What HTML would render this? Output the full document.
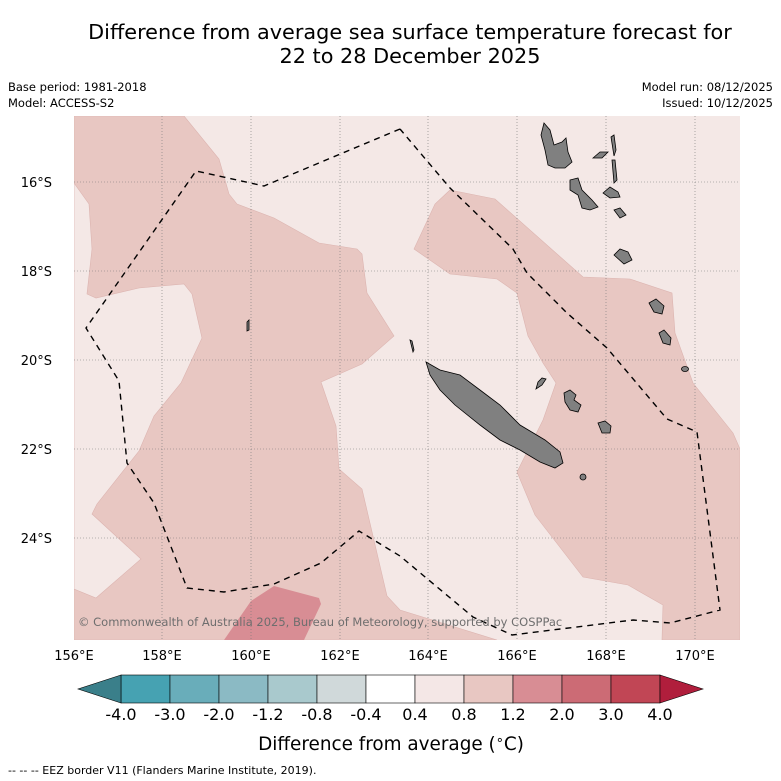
<!DOCTYPE html>
<html><head><meta charset="utf-8"><style>
body{margin:0;background:#fff;font-family:"Liberation Sans","DejaVu Sans",sans-serif}
svg{display:block}
</style></head><body>
<svg id="s" width="781" height="781" viewBox="0 0 781 781" font-family="DejaVu Sans, Liberation Sans, sans-serif">
<text x="410" y="39" font-size="20.8" text-anchor="middle">Difference from average sea surface temperature forecast for</text>
<text x="410" y="63" font-size="20.8" text-anchor="middle">22 to 28 December 2025</text>
<text x="8" y="91" font-size="11.5">Base period: 1981-2018</text>
<text x="8" y="107" font-size="11.5">Model: ACCESS-S2</text>
<text x="773" y="91" font-size="11.5" text-anchor="end">Model run: 08/12/2025</text>
<text x="773" y="107" font-size="11.5" text-anchor="end">Issued: 10/12/2025</text>
<defs><clipPath id="mc"><rect x="74" y="116" width="666" height="524"/></clipPath></defs>
<g clip-path="url(#mc)">
<rect x="74" y="116" width="666" height="524" fill="#f4e8e6"/>
<polygon fill="#e8c7c2" stroke="#dcb4b0" stroke-width="0.6" points="74,116 184,116 219,159 229,194 237,204 274,218 319,243 357,249 362,254 367,293 394,336 362,364 321,382 336,426 339,469 362,489 387,596 400,610 497,640 74,640"/>
<polygon fill="#f4e8e6" stroke="#dcb4b0" stroke-width="0.6" points="74,183 89,204 92,249 87,294 96,298 139,288 184,284 192,294 202,338 181,383 154,416 139,451 97,504 92,514 141,559 96,598 74,589"/>
<polygon fill="#e8c7c2" stroke="#dcb4b0" stroke-width="0.6" points="450,190 495,199 583,277 630,279 672,293 675,333 693,383 733,433 740,449 740,640 662,640 663,605 628,585 583,577 535,515 517,472 543,420 556,383 543,363 528,336 517,293 497,279 450,274 414,249 435,204"/>
<polygon fill="#d88d94" points="224,640 251,601 274,586 319,598 321,604 304,640"/>
<g stroke="#777" stroke-width="0.6" stroke-dasharray="1,2">
<line x1="162" y1="116" x2="162" y2="640"/><line x1="251" y1="116" x2="251" y2="640"/><line x1="340" y1="116" x2="340" y2="640"/><line x1="428" y1="116" x2="428" y2="640"/><line x1="517" y1="116" x2="517" y2="640"/><line x1="606" y1="116" x2="606" y2="640"/><line x1="695" y1="116" x2="695" y2="640"/>
<line x1="74" y1="182" x2="740" y2="182"/><line x1="74" y1="271" x2="740" y2="271"/><line x1="74" y1="360" x2="740" y2="360"/><line x1="74" y1="449" x2="740" y2="449"/><line x1="74" y1="538" x2="740" y2="538"/>
</g>
<g fill="#808080" stroke="#000" stroke-width="0.8">
<polygon points="426,362 440,370 460,375 480,390 500,405 520,425 545,440 560,452 563,463 555,468 540,462 520,450 500,440 480,425 455,405 440,390 430,375"/>
<polygon points="544,123 550,130 554,145 562,142 566,138 568,152 572,162 565,168 555,168 548,165 545,150 541,135"/>
<polygon points="570,180 578,178 582,190 592,200 598,207 590,210 582,208 578,195 570,190"/>
<polygon points="593,158 600,152 608,152 602,158"/>
<polygon points="611,137 614,135 616,150 614,156"/>
<polygon points="612,160 615,160 617,180 614,183"/>
<polygon points="603,193 610,187 618,192 620,197 610,198"/>
<polygon points="614,210 620,208 626,215 620,218"/>
<polygon points="614,255 620,249 628,252 632,260 624,264"/>
<polygon points="649,303 656,299 664,306 662,314 654,312"/>
<polygon points="659,333 664,330 671,338 670,345 663,343"/>
<ellipse cx="685" cy="369" rx="3.5" ry="2.5"/>
<polygon points="564,393 570,390 576,395 574,400 581,405 578,412 570,410 565,402"/>
<polygon points="598,423 605,421 611,426 610,433 602,433"/>
<ellipse cx="583" cy="477" rx="3" ry="3"/>
<polygon points="538,382 542,378 546,379 542,385 536,389"/>
<polygon points="410,340 412,341 414,350 413,352"/>
<polygon points="247,322 249,320 249,330 247,331"/>
</g>
<polyline fill="none" stroke="#000" stroke-width="1.4" stroke-dasharray="6,5" points="400,129 264,186 196,171 86,328 119,381 127,463 154,503 187,588 224,592 274,584 321,563 359,531 400,556 473,617 512,635 633,620 670,623 720,610 697,432 667,419 607,348 567,313 527,273 513,249 450,188 400,129"/>
<text x="78" y="626" font-size="11.5" fill="#6e6e6e">© Commonwealth of Australia 2025, Bureau of Meteorology, supported by COSPPac</text>
</g>
<g font-size="13">
<text x="52" y="187" text-anchor="end">16°S</text><text x="52" y="276" text-anchor="end">18°S</text><text x="52" y="365" text-anchor="end">20°S</text><text x="52" y="454" text-anchor="end">22°S</text><text x="52" y="543" text-anchor="end">24°S</text>
<text x="74" y="660" text-anchor="middle">156°E</text><text x="162" y="660" text-anchor="middle">158°E</text><text x="251" y="660" text-anchor="middle">160°E</text><text x="340" y="660" text-anchor="middle">162°E</text><text x="428" y="660" text-anchor="middle">164°E</text><text x="517" y="660" text-anchor="middle">166°E</text><text x="606" y="660" text-anchor="middle">168°E</text><text x="695" y="660" text-anchor="middle">170°E</text>
</g>
<g id="cb"></g>
<text x="391" y="750" font-size="18.4" text-anchor="middle">Difference from average (<tspan font-size="13" dy="-6">∘</tspan><tspan dy="6">C)</tspan></text>
<text x="8" y="774" font-size="11">--  --  -- EEZ border V11 (Flanders Marine Institute, 2019).</text>
</svg>
<script>
const bounds=[-4.0,-3.0,-2.0,-1.2,-0.8,-0.4,0.4,0.8,1.2,2.0,3.0,4.0];
const colors=["#46a2b2","#69adba","#8bbac4","#a9c9cd","#d0d9da","#ffffff","#f4e7e6","#e8c7c2","#d88d94","#cc6b75","#c14655"];
const ends=["#3a7f8a","#b01e3c"];
const NS="http://www.w3.org/2000/svg";
const cb=document.getElementById('cb');
const x0=121,w=49,y0=675,h=28;
function xi(i){return x0+i*w;}
function mk(t,a){const e=document.createElementNS(NS,t);for(const k in a)e.setAttribute(k,a[k]);cb.appendChild(e);return e;}
colors.forEach((c,i)=>{
 const r=mk('rect',{x:xi(i),y:y0,width:w,height:h,fill:c,stroke:'#000','stroke-width':0.6});
 
 
});
const n=colors.length;
const lt=mk('polygon',{points:`${xi(0)},${y0} ${xi(0)-43},${y0+h/2} ${xi(0)},${y0+h}`,fill:ends[0],stroke:'#000','stroke-width':0.6});


const rt=mk('polygon',{points:`${xi(n)},${y0} ${xi(n)+43},${y0+h/2} ${xi(n)},${y0+h}`,fill:ends[1],stroke:'#000','stroke-width':0.6});


bounds.forEach((b,i)=>{
 const t=mk('text',{x:xi(i),y:720,'font-size':16,'text-anchor':'middle'});
 t.textContent=b.toFixed(1);
 
 
});
</script>
</body></html>
